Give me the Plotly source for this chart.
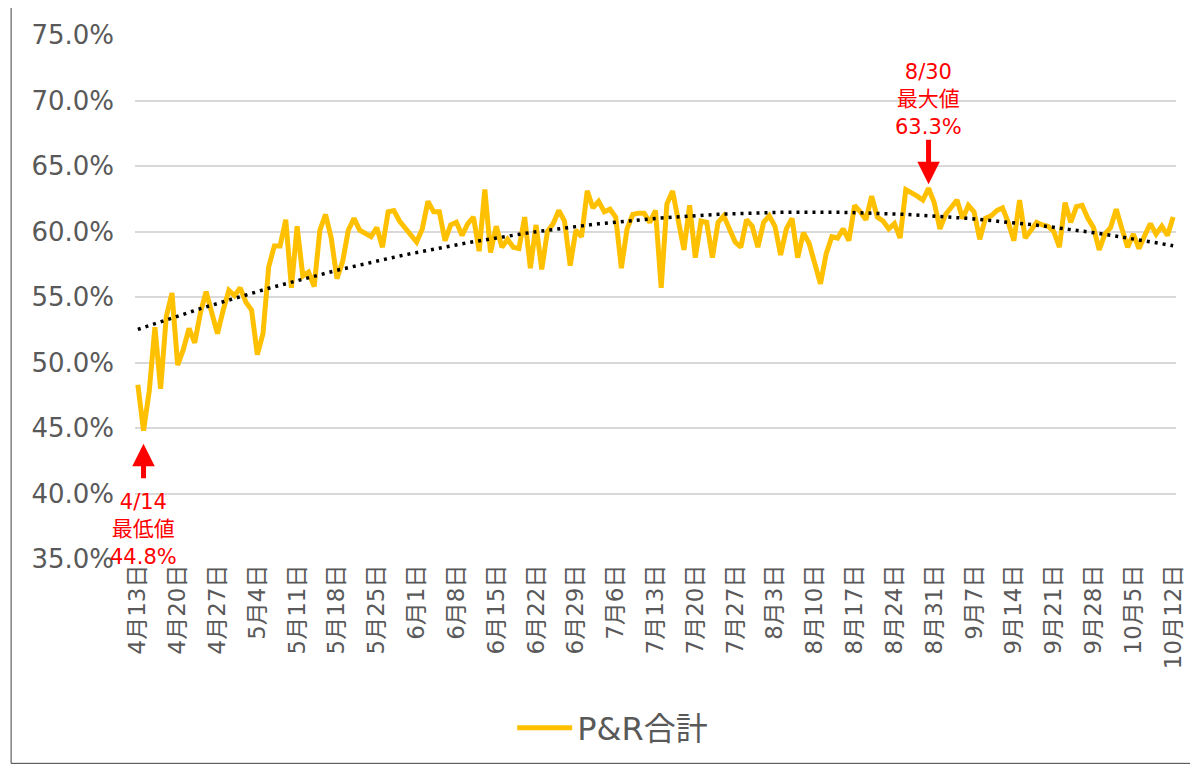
import numpy as np
import pandas as pd
import plotly.graph_objects as go

start_date = "2020-04-13"
n_days = 183

values = [
    48.3, 44.8, 47.8, 52.7, 48.0, 53.5, 55.3, 49.8, 51.0, 52.6,
    51.5, 53.8, 55.4, 53.9, 52.2, 54.0, 55.5, 55.1, 55.7, 54.6,
    54.0, 50.6, 52.2, 57.3, 58.9, 58.9, 60.9, 55.7, 60.4, 56.6,
    56.9, 55.8, 60.1, 61.3, 59.5, 56.4, 57.7, 60.1, 61.0, 60.1,
    59.9, 59.6, 60.3, 58.8, 61.5, 61.6, 60.8, 60.3, 59.7, 59.2,
    60.2, 62.3, 61.5, 61.5, 59.3, 60.5, 60.7, 59.7, 60.6, 61.1,
    58.5, 63.2, 58.4, 60.4, 58.8, 59.4, 58.8, 58.7, 61.1, 57.2,
    60.5, 57.1, 60.0, 60.6, 61.6, 60.8, 57.4, 60.1, 59.6, 63.1,
    61.8, 62.3, 61.5, 61.7, 61.1, 57.2, 60.2, 61.3, 61.4, 61.4,
    60.7, 61.6, 55.7, 62.1, 63.1, 61.0, 58.6, 62.0, 58.0, 60.8,
    60.7, 58.0, 60.7, 61.2, 60.3, 59.2, 58.8, 60.9, 60.4, 58.8,
    60.7, 61.2, 60.4, 58.2, 60.2, 61.0, 58.0, 59.9, 59.1, 57.5,
    56.0, 58.3, 59.6, 59.5, 60.2, 59.3, 62.0, 61.5, 60.9, 62.7,
    61.1, 60.8, 60.2, 60.6, 59.5, 63.2, 63.0, 62.7, 62.4, 63.3,
    62.2, 60.2, 61.3, 61.9, 62.4, 61.0, 62.0, 61.5, 59.4, 61.0,
    61.2, 61.6, 61.8, 60.7, 59.3, 62.4, 59.5, 60.1, 60.7, 60.5,
    60.4, 60.0, 58.8, 62.2, 60.7, 61.9, 62.0, 61.0, 60.3, 58.6,
    59.8, 60.3, 61.7, 60.2, 58.8, 59.8, 58.7, 59.7, 60.6, 59.8,
    60.4, 59.7, 61.1,
]

tick_labels = [
    "4月13日", "4月20日", "4月27日", "5月4日", "5月11日", "5月18日", "5月25日",
    "6月1日", "6月8日", "6月15日", "6月22日", "6月29日", "7月6日", "7月13日",
    "7月20日", "7月27日", "8月3日", "8月10日", "8月17日", "8月24日", "8月31日",
    "9月7日", "9月14日", "9月21日", "9月28日", "10月5日", "10月12日",
]

y_ticks = [35, 40, 45, 50, 55, 60, 65, 70, 75]

min_label = "4/14<br>最低値<br>44.8%"
max_label = "8/30<br>最大値<br>63.3%"
min_day = 1
max_day = 139

series_name = "P&R合計"

dates = pd.date_range(start_date, periods=n_days, freq="D")
day_idx = np.arange(n_days)
tick_vals = [dates[i] for i in range(0, n_days, 7)]

# polynomial (order 2) trendline, like the spreadsheet's trendline
coef = np.polyfit(day_idx, values, 2)
trend = np.polyval(coef, day_idx)

FONT = "DejaVu Sans, Noto Sans CJK JP, sans-serif"
GREY = "#595959"
RED = "#FF0000"

fig = go.Figure()
fig.add_trace(go.Scatter(
    x=dates, y=values, mode="lines", name=series_name,
    line=dict(color="#FFC000", width=5, shape="linear"),
))
fig.add_trace(go.Scatter(
    x=dates, y=trend, mode="lines", showlegend=False,
    line=dict(color="#000000", width=3.5, dash="3px,5px"),
))

# page has an 8px body margin: figure pixel = page pixel - 8
OFF = 8
W, H = 1198 - OFF, 768 - OFF
L, R, T, B = 135 - OFF, 1181 - OFF, 35 - OFF, 562 - OFF

def px_x(p):
    return (p - OFF - L) / (R - L)

def px_y(p):
    return (B - (p - OFF)) / (B - T)

annotations = [
    # min arrow (pointing up)
    dict(x=dates[min_day], y=43.8, xref="x", yref="y", text="", showarrow=True,
         ax=0, ay=36, arrowhead=2, arrowsize=0.9, arrowwidth=5, arrowcolor=RED),
    dict(x=dates[min_day], y=px_y(532), xref="x", yref="paper", text=min_label,
         showarrow=False, font=dict(family=FONT, size=21, color=RED),
         xanchor="center", yanchor="middle", align="center"),
    # max arrow (pointing down)
    dict(x=dates[max_day], y=63.6, xref="x", yref="y", text="", showarrow=True,
         ax=0, ay=-46, arrowhead=2, arrowsize=0.9, arrowwidth=5, arrowcolor=RED),
    dict(x=dates[max_day], y=px_y(100), xref="x", yref="paper", text=max_label,
         showarrow=False, font=dict(family=FONT, size=21, color=RED),
         xanchor="center", yanchor="middle", align="center"),
]

shapes = [
    dict(type="rect", xref="paper", yref="paper",
         x0=px_x(10.5), x1=px_x(1197), y0=px_y(767.5), y1=px_y(1.5),
         line=dict(color="#404040", width=1), fillcolor="rgba(0,0,0,0)", layer="below"),
]

fig.update_layout(
    width=W, height=H, autosize=False,
    margin=dict(l=L, r=W - R, t=T, b=H - B, pad=0),
    paper_bgcolor="white", plot_bgcolor="white",
    font=dict(family=FONT, color=GREY),
    showlegend=True,
    legend=dict(orientation="h", x=px_x(615), y=px_y(732), xanchor="center",
                yanchor="middle", font=dict(family=FONT, size=32, color=GREY),
                itemwidth=55, bgcolor="rgba(0,0,0,0)"),
    xaxis=dict(
        range=[dates[0] - pd.Timedelta(hours=12), dates[-1] + pd.Timedelta(hours=12)],
        tickvals=tick_vals, ticktext=tick_labels, tickangle=-90,
        tickfont=dict(family=FONT, size=23, color=GREY),
        showgrid=False, zeroline=False, showline=False, ticks="", ticklen=0,
    ),
    yaxis=dict(
        range=[35, 75], tickvals=y_ticks,
        ticktext=[f"{v:.1f}%" for v in y_ticks],
        tickfont=dict(family=FONT, size=26, color=GREY),
        showgrid=True, gridcolor="#D9D9D9", gridwidth=1.5,
        zeroline=False, showline=False, ticks="", ticklabelstandoff=20,
    ),
    annotations=annotations,
    shapes=shapes,
)

fig.write_html("out.html")
